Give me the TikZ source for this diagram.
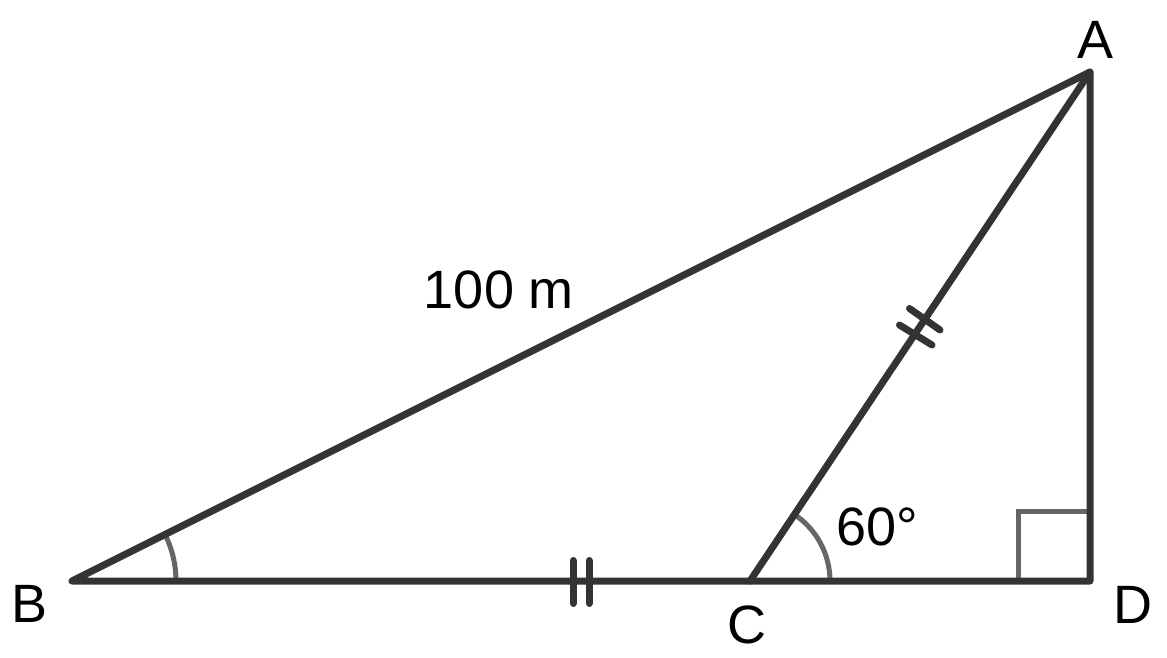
\documentclass[tikz,border=0pt]{standalone}
\usepackage{fontspec}
\setmainfont{Liberation Sans}
\definecolor{edge}{HTML}{333333}
\definecolor{mark}{HTML}{666666}
\tikzset{
  side/.style={draw=edge,line width=7pt,line cap=round,line join=round},
  angmark/.style={draw=mark,line width=5pt},
  tick/.style={draw=edge,line width=7pt,line cap=round},
  lbl/.style={font=\fontsize{54}{60}\selectfont,inner sep=0pt}
}
\begin{document}
\begin{tikzpicture}[x=1pt,y=-1pt]
\useasboundingbox (0,0) rectangle (1167,658);
\coordinate (B) at (72,581);
\coordinate (C) at (750,581);
\coordinate (D) at (1090,581);
\coordinate (A) at (1090,72);
% angle marks
\draw[angmark] (176,581) arc[start angle=0,end angle=-26.9,radius=104];
\draw[angmark] (830,581) arc[start angle=0,end angle=-56.2,radius=80];
\draw[angmark] (1090,511) -- (1018,511) -- (1018,581);
% sides
\draw[side] (B) -- (D) -- (A) -- cycle;
\draw[side] (C) -- (A);
% ticks on BC
\draw[tick] (573,560.5) -- (573,603.5);
\draw[tick] (589,560.5) -- (589,603.5);
% ticks on AC
\draw[tick] (909.5,308.5) -- (940,330);
\draw[tick] (899.5,325) -- (932,345);
% labels
\node[lbl] (lA) at (1095,40) {A};
\node[lbl] (lB) at (30,604) {B};
\node[lbl] (lC) at (747,625) {C};
\node[lbl] (lD) at (1133,605) {D};
\node[lbl] (l100) at (499,290) {100 m};
\node[lbl] (l60) at (877,527) {60°};
\end{tikzpicture}
\end{document}
